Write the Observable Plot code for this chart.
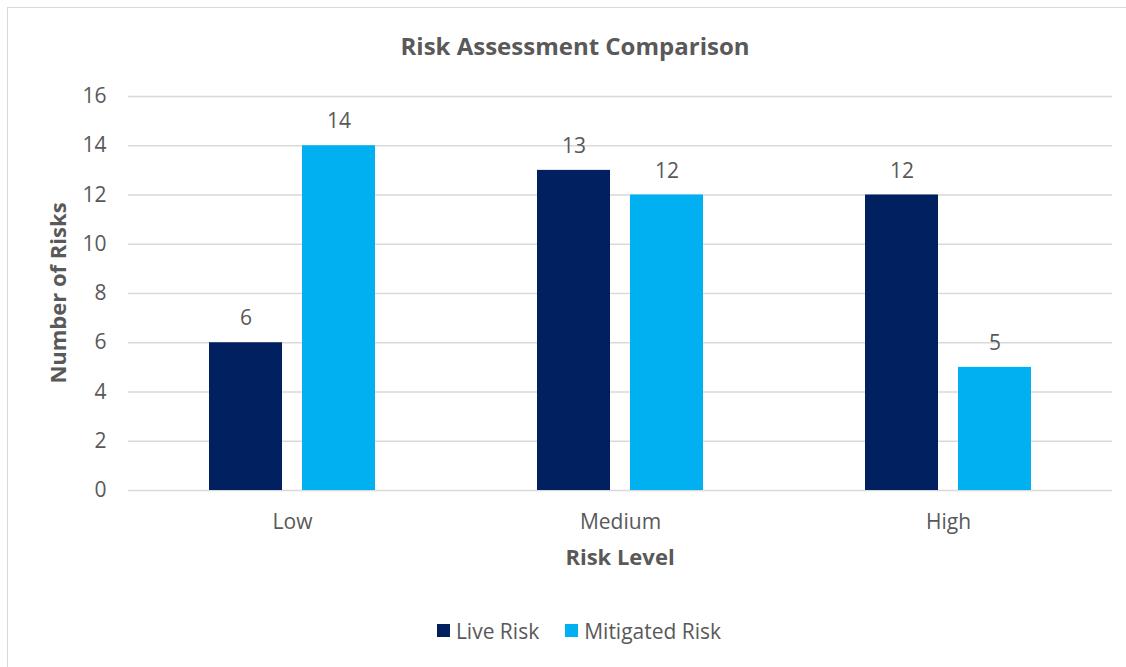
<!DOCTYPE html>
<html>
<head>
<meta charset="utf-8">
<script src="https://cdn.jsdelivr.net/npm/d3@7"></script>
<script src="https://cdn.jsdelivr.net/npm/@observablehq/plot@0.6"></script>
<style>
  html, body { margin: 0; padding: 0; background: #fff; }
  body { width: 1126px; height: 667px; overflow: hidden; position: relative; font-family: "Open Sans", sans-serif; }
  #frame { position: absolute; left: 7px; top: 7px; width: 1130px; height: 670px; border-left: 1.5px solid #d9d9d9; border-top: 1.5px solid #d9d9d9; box-sizing: border-box; }
  #title { position: absolute; left: 12px; width: 1126px; top: 31px; text-align: center; font-size: 24px; font-weight: bold; color: #595959; line-height: 30px; }
  #chart { position: absolute; left: 0; top: 70px; }
  #legend { position: absolute; left: 16px; width: 1126px; top: 614px; text-align: center; font-size: 21px; color: #595959; line-height: 30px; }
  #legend span.item { display: inline-flex; align-items: center; margin: 0 13px; }
  #legend span.sw { display: inline-block; width: 13px; height: 13px; margin-right: 6px; }
</style>
</head>
<body>
<div id="frame"></div>
<div id="title">Risk Assessment Comparison</div>
<div id="chart"></div>
<div id="legend"></div>
<script>
const levels = ["Low", "Medium", "High"];
const series = ["Live Risk", "Mitigated Risk"];
const liveRisk = [6, 13, 12];
const mitigatedRisk = [14, 12, 5];
const colors = ["#002060", "#00B0F0"];
const yTicks = [0, 2, 4, 6, 8, 10, 12, 14, 16];

const data = [];
levels.forEach((lvl, i) => {
  data.push({level: lvl, series: series[0], value: liveRisk[i]});
  data.push({level: lvl, series: series[1], value: mitigatedRisk[i]});
});

const textColor = "#595959";
const W = 1126, H = 530, mT = 26, mB = 110, mL = 127, mR = 13;
const plot = Plot.plot({
  width: W,
  height: H,
  marginLeft: mL,
  marginRight: mR,
  marginTop: mT,
  marginBottom: mB,
  style: { fontFamily: "'Open Sans', sans-serif", fontSize: "21px", color: textColor, background: "transparent" },
  fx: { domain: levels, padding: 0, label: null, axis: null },
  x: { domain: series, paddingInner: 0.213, paddingOuter: 0.856, axis: null },
  y: { domain: [0, 16], ticks: yTicks, label: null },
  color: { domain: series, range: colors },
  marks: [
    Plot.gridY(yTicks, { stroke: "#d9d9d9", strokeOpacity: 1, strokeWidth: 1.5 }),
    Plot.barY(data, { fx: "level", x: "series", y: "value", fill: "series" }),
    Plot.text(data, { fx: "level", x: "series", y: "value", text: d => String(d.value), dy: -24, fill: textColor, fontSize: 21 }),
    Plot.axisY(yTicks, { tickSize: 0, tickPadding: 22, fontSize: 21, fill: textColor, label: null }),
    Plot.axisFx({ anchor: "bottom", tickSize: 0, tickPadding: 24, fontSize: 21, fill: textColor, label: null })
  ]
});
document.getElementById("chart").appendChild(plot);

const svg = d3.select(plot);
// y-axis title
svg.append("text")
  .attr("transform", "translate(60," + (mT + (H - mT - mB) / 2) + ") rotate(-90)")
  .attr("text-anchor", "middle")
  .attr("dominant-baseline", "middle")
  .attr("font-weight", "bold")
  .attr("font-size", 22)
  .attr("fill", textColor)
  .text("Number of Risks");
// x-axis title
svg.append("text")
  .attr("x", mL + (W - mL - mR) / 2)
  .attr("y", 559 - 70)
  .attr("text-anchor", "middle")
  .attr("dominant-baseline", "middle")
  .attr("font-weight", "bold")
  .attr("font-size", 22)
  .attr("fill", textColor)
  .text("Risk Level");

const legend = document.getElementById("legend");
series.forEach((s, i) => {
  const item = document.createElement("span");
  item.className = "item";
  const sw = document.createElement("span");
  sw.className = "sw";
  sw.style.background = colors[i];
  item.appendChild(sw);
  item.appendChild(document.createTextNode(s));
  legend.appendChild(item);
});
</script>
</body>
</html>
